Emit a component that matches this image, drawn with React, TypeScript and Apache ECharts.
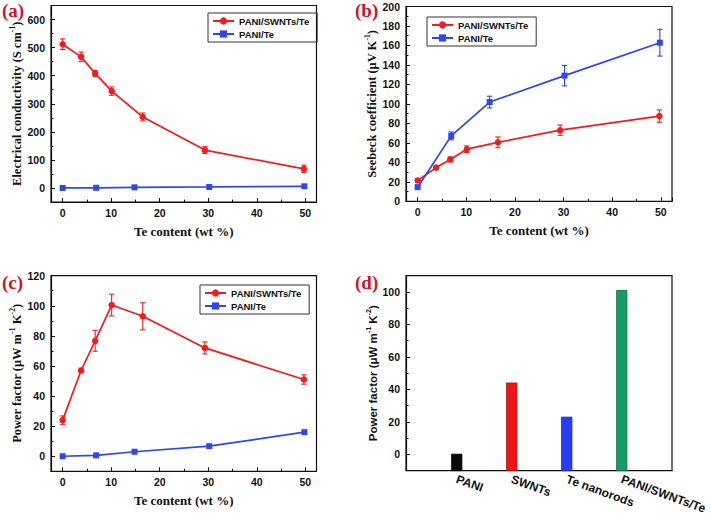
import React, { useEffect, useRef } from 'react';
import * as echarts from 'echarts';

// Te content (wt %) positions
const teRed = [0, 3.8, 6.7, 10.1, 16.5, 29.3, 49.7];
const teBlue = [0, 6.9, 14.8, 30.2, 49.8];

// (a) Electrical conductivity (S cm-1)
const condRed = [512, 467, 408, 345, 253, 135, 68];
const condRedErr = [19, 17, 11, 15, 14, 12, 13];
const condBlue = [0, 0.6, 2.2, 3.6, 6];

// (b) Seebeck coefficient (uV K-1)
const seebRed = [21.3, 34.6, 43, 53.5, 60.5, 73, 87.5];
const seebRedErr = [2, 2, 2.5, 3.4, 5.5, 5.3, 6.3];
const seebBlue = [14.5, 67.2, 101.9, 129, 162.8];
const seebBlueErr = [2, 4, 6, 10.5, 13.7];

// (c) Power factor (uW m-1 K-2)
const pfRed = [24, 57, 76.7, 100.5, 93, 72, 51];
const pfRedErr = [2.8, 1.5, 6.9, 7.2, 9, 4, 3.1];
const pfBlue = [0, 0.6, 3, 6.7, 16];

// (d) Power factor bar chart
const barCats = ['PANI', 'SWNTs', 'Te nanorods', 'PANI/SWNTs/Te'];
const barVals = [0.2, 44, 23, 101];
const barColors = ['#0a0a0a', '#f01414', '#2a3cf2', '#179a65'];
const barEdges = ['#000', '#a01010', '#1a2aa0', '#0f6a45'];

const RED = '#f21c1c';
const BLUE = '#2f45ee';
const INK = '#111';
const SANS = 'Liberation Sans';
const SERIF = 'Liberation Serif';

const supRich = (family: string, size: number) => ({
  sup: { fontSize: size * 0.62, fontFamily: family, fontWeight: 'bold', color: INK, verticalAlign: 'top', lineHeight: size + 2 },
  n: { fontSize: size, fontFamily: family, fontWeight: 'bold', color: INK, verticalAlign: 'bottom', lineHeight: size + 2 },
});

function xTeAxis(gridIndex: number) {
  return {
    type: 'value',
    gridIndex,
    min: -2.4,
    max: 52.3,
    minInterval: 10,
    maxInterval: 10,
    axisLine: { show: true, onZero: false, lineStyle: { color: INK, width: 1.2 } },
    axisTick: { show: true, inside: true, length: 4, lineStyle: { color: INK, width: 1 } },
    minorTick: { show: true, splitNumber: 2, length: 2.5, lineStyle: { color: INK, width: 1 } },
    splitLine: { show: false },
    minorSplitLine: { show: false },
    axisLabel: {
      formatter: (v: number) => (Math.abs(v % 10) < 1e-6 ? String(Math.round(v)) : ''),
      fontFamily: SANS, fontWeight: 'bold', fontSize: 10.5, color: INK, margin: 5,
    },
    name: 'Te content (wt %)',
    nameLocation: 'middle',
    nameGap: 23,
    nameMoveOverlap: false,
    nameTextStyle: { fontFamily: SERIF, fontWeight: 'bold', fontSize: 13, color: INK },
  };
}

function yAxis(gridIndex: number, min: number, max: number, step: number, name: string, family: string, size: number, gap: number) {
  return {
    type: 'value',
    gridIndex,
    min,
    max,
    minInterval: step,
    maxInterval: step,
    axisLine: { show: true, onZero: false, lineStyle: { color: INK, width: 1.2 } },
    axisTick: { show: true, inside: true, length: 4, lineStyle: { color: INK, width: 1 } },
    minorTick: { show: true, splitNumber: 2, length: 2.5, lineStyle: { color: INK, width: 1 } },
    splitLine: { show: false },
    minorSplitLine: { show: false },
    axisLabel: {
      formatter: (v: number) => (Math.abs(v % step) < 1e-6 ? String(Math.round(v)) : ''),
      fontFamily: SANS, fontWeight: 'bold', fontSize: 10.5, color: INK, margin: 6,
    },
    name,
    nameLocation: 'middle',
    nameGap: gap,
    nameRotate: 90,
    nameMoveOverlap: false,
    nameTextStyle: { fontFamily: family, fontWeight: 'bold', fontSize: size, color: INK, rich: supRich(family, size) },
  };
}

function lineSeries(name: string, xs: number[], ys: number[], color: string, symbol: string, idx: number) {
  return {
    type: 'line',
    name,
    xAxisIndex: idx,
    yAxisIndex: idx,
    data: xs.map((x, i) => [x, ys[i]]),
    symbol,
    symbolSize: symbol === 'circle' ? 6.5 : 6,
    lineStyle: { color, width: 1.7 },
    itemStyle: { color },
    z: 3,
  };
}

function errSeries(xs: number[], ys: number[], es: number[], color: string, idx: number) {
  return {
    type: 'custom',
    name: 'err' + idx + color,
    xAxisIndex: idx,
    yAxisIndex: idx,
    silent: true,
    z: 2,
    encode: { x: 0, y: 1 },
    data: xs.map((x, i) => [x, ys[i], es[i]]),
    renderItem: (params: any, api: any) => {
      const x = api.value(0);
      const y = api.value(1);
      const e = api.value(2);
      const top = api.coord([x, y + e]);
      const bot = api.coord([x, y - e]);
      const w = 2.6;
      const style = { stroke: color, lineWidth: 1.1 };
      return {
        type: 'group',
        children: [
          { type: 'line', shape: { x1: top[0], y1: top[1], x2: bot[0], y2: bot[1] }, style },
          { type: 'line', shape: { x1: top[0] - w, y1: top[1], x2: top[0] + w, y2: top[1] }, style },
          { type: 'line', shape: { x1: bot[0] - w, y1: bot[1], x2: bot[0] + w, y2: bot[1] }, style },
        ],
      };
    },
  };
}

function legend(left: number, top: number) {
  return {
    orient: 'vertical',
    left,
    top,
    padding: [3, 8, 3, 4],
    itemGap: 3,
    itemWidth: 21,
    itemHeight: 9,
    selectedMode: false,
    borderColor: '#333',
    borderWidth: 1,
    textStyle: { fontFamily: SANS, fontWeight: 'bold', fontSize: 9.5, color: INK },
    data: ['PANI/SWNTs/Te', 'PANI/Te'],
  };
}

const panelLabel = (text: string, left: number, top: number) => ({
  type: 'text',
  left,
  top,
  style: { text, fill: '#d0142a', font: `bold 19px "${SERIF}"` },
});

const gridStyle = { show: true, borderColor: INK, borderWidth: 1.2, backgroundColor: 'transparent' };

// bars in (d) rise from the bottom of the value axis, as in the original plot
const yMinD = -10;

const option: any = {
  animation: false,
  backgroundColor: '#fff',
  grid: [
    { left: 51, top: 5.5, width: 265.5, height: 196.5, ...gridStyle },
    { left: 406, top: 6.5, width: 266, height: 194.8, ...gridStyle },
    { left: 51, top: 275.7, width: 265.5, height: 195.6, ...gridStyle },
    { left: 406, top: 275.7, width: 266, height: 195, ...gridStyle },
  ],
  xAxis: [
    xTeAxis(0),
    xTeAxis(1),
    xTeAxis(2),
    {
      type: 'value',
      gridIndex: 3,
      min: 0.078,
      max: 4.914,
      minInterval: 1,
      maxInterval: 1,
      axisLine: { show: true, onZero: false, lineStyle: { color: INK, width: 1.2 } },
      axisTick: { show: false },
      splitLine: { show: false },
      axisLabel: {
        formatter: (v: number) => {
          const k = Math.round(v);
          return Math.abs(v - k) < 1e-6 && k >= 1 && k <= barCats.length ? barCats[k - 1] : '';
        },
        rotate: -20,
        fontFamily: SANS, fontWeight: 'bold', fontSize: 12, color: INK, margin: 8,
      },
    },
  ],
  yAxis: [
    yAxis(0, -50, 650, 100, '{n|Electrical conductivity (S cm}{sup|-1}{n|)}', SERIF, 12.5, 28),
    yAxis(1, 0, 200, 20, '{n|Seebeck coefficient (μV K}{sup|-1}{n|)}', SERIF, 12.5, 28),
    yAxis(2, -10, 120, 20, '{n|Power factor (μW m}{sup|-1}{n| K}{sup|-2}{n|)}', SERIF, 12.5, 28),
    yAxis(3, -10, 110, 20, '{n|Power factor (μW m}{sup|-1}{n| K}{sup|-2}{n|)}', SANS, 11.5, 27),
  ],
  legend: [legend(208, 13), legend(427, 17), legend(200, 285)],
  graphic: [
    panelLabel('(a)', 2, 1),
    panelLabel('(b)', 355, 1),
    panelLabel('(c)', 2, 273),
    panelLabel('(d)', 355, 273),
  ],
  series: [
    errSeries(teRed, condRed, condRedErr, RED, 0),
    lineSeries('PANI/SWNTs/Te', teRed, condRed, RED, 'circle', 0),
    lineSeries('PANI/Te', teBlue, condBlue, BLUE, 'rect', 0),

    errSeries(teRed, seebRed, seebRedErr, RED, 1),
    errSeries(teBlue, seebBlue, seebBlueErr, BLUE, 1),
    lineSeries('PANI/SWNTs/Te', teRed, seebRed, RED, 'circle', 1),
    lineSeries('PANI/Te', teBlue, seebBlue, BLUE, 'rect', 1),

    errSeries(teRed, pfRed, pfRedErr, RED, 2),
    lineSeries('PANI/SWNTs/Te', teRed, pfRed, RED, 'circle', 2),
    lineSeries('PANI/Te', teBlue, pfBlue, BLUE, 'rect', 2),

    {
      type: 'custom',
      name: 'Power factor',
      xAxisIndex: 3,
      yAxisIndex: 3,
      encode: { x: 0, y: 1 },
      data: barVals.map((v, i) => [i + 1, v]),
      renderItem: (params: any, api: any) => {
        const x = api.value(0);
        const v = api.value(1);
        const top = api.coord([x, v]);
        const bot = api.coord([x, yMinD]);
        const w = 10.5;
        const i = params.dataIndex;
        return {
          type: 'rect',
          shape: { x: top[0] - w / 2, y: top[1], width: w, height: bot[1] - top[1] },
          style: { fill: barColors[i], stroke: barEdges[i], lineWidth: 0.7 },
        };
      },
    },
  ],
};

export default function App() {
  const ref = useRef<HTMLDivElement>(null);
  useEffect(() => {
    const chart = echarts.init(ref.current as HTMLDivElement, null, { renderer: 'svg' });
    chart.setOption(option);
    return () => chart.dispose();
  }, []);
  return <div ref={ref} style={{ position: 'absolute', left: 0, top: 0, width: 711, height: 516 }} />;
}
